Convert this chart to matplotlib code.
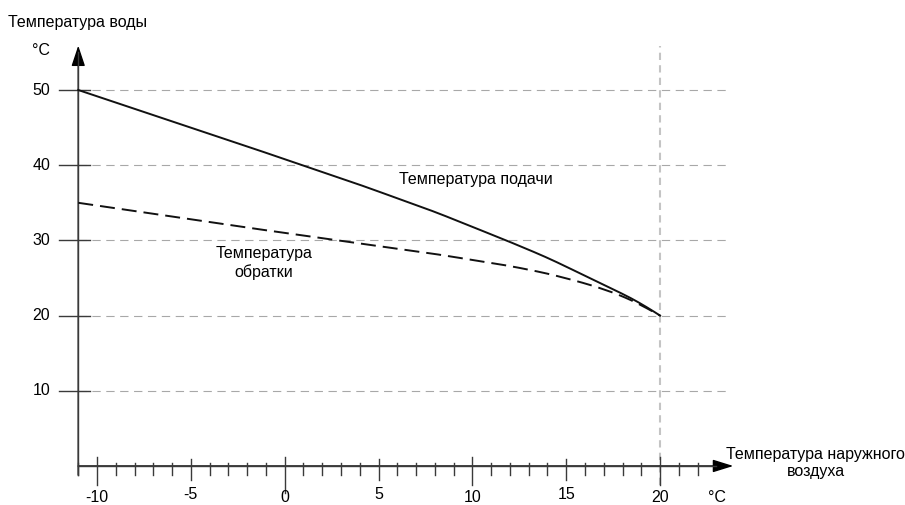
import numpy as np
import matplotlib
matplotlib.use('Agg')
from matplotlib import pyplot as plt

plt.rcParams['font.family'] = ['Liberation Sans', 'DejaVu Sans']
plt.rcParams['font.size'] = 11.5

# outdoor temperature, deg C
outdoor = [-11, -8, -5, -2, 0, 2, 4, 6, 8, 10, 12, 14, 16, 17, 18, 19, 20]
# supply and return water temperature, deg C
supply = [50, 47.5, 45.0, 42.5, 40.8, 39.1, 37.4, 35.6, 33.8, 31.8,
          29.8, 27.7, 25.3, 24.1, 22.9, 21.6, 20]
ret = [35, 33.9, 32.8, 31.7, 31.0, 30.3, 29.6, 28.9, 28.2, 27.4,
       26.6, 25.6, 24.3, 23.5, 22.6, 21.4, 20]

y_ticks = [10, 20, 30, 40, 50]
x_labels = [-10, -5, 0, 5, 10, 15, 20]
x_minor = list(range(-11, 23))

fig = plt.figure(figsize=(9.05, 5.05), dpi=100)
ax = fig.add_axes([0, 0, 1, 1])
ax.set_xlim(-15.17, 33.05)
ax.set_ylim(-5.19, 61.97)
ax.axis('off')

axcol = '#3a3a3a'
gridcol = '#a8a8a8'

# smooth the curves a bit (odd padding keeps the end points)
xs = np.linspace(-11, 20, 300)
n = 15
k = np.ones(n) / n
def smooth(y):
    h = n // 2
    left = 2 * y[0] - y[1:h + 1][::-1]
    right = 2 * y[-1] - y[-h - 1:-1][::-1]
    return np.convolve(np.concatenate([left, y, right]), k, mode='valid')
sup_s = smooth(np.interp(xs, outdoor, supply))
ret_s = smooth(np.interp(xs, outdoor, ret))

# grid
for v in y_ticks:
    ax.plot([-11, 23.5], [v, v], color=gridcol, lw=0.8, ls=(0, (7.5, 5)), zorder=1)
ax.plot([20, 20], [-2.5, 55.9], color='#c4c4c4', lw=1.5, ls=(0, (3.5, 2.5)), zorder=1)

# axes
ax.annotate('', xy=(-11, 55.9), xytext=(-11, -1.2),
            arrowprops=dict(arrowstyle='-|>,head_length=0.9,head_width=0.3',
                            color='black', lw=1.0, shrinkA=0, shrinkB=0,
                            mutation_scale=14), zorder=3)
ax.annotate('', xy=(23.9, 0), xytext=(-11, 0),
            arrowprops=dict(arrowstyle='-|>,head_length=0.9,head_width=0.28',
                            color='black', lw=1.0, shrinkA=0, shrinkB=0,
                            mutation_scale=14), zorder=3)
ax.plot([-11, -11], [-1.2, 55], color=axcol, lw=1.0, zorder=3)
ax.plot([-11, 23], [0, 0], color=axcol, lw=1.0, zorder=3)

for v in y_ticks:
    ax.plot([-12.0, -10.4], [v, v], color=axcol, lw=1.0, zorder=3)
    ax.text(-12.5, v, str(v), ha='right', va='center')

for v in x_minor:
    if v % 10 == 0:
        lo = -3.6 if v == 0 else -2.5
        ax.plot([v, v], [lo, 1.2], color=axcol, lw=1.0, zorder=3)
    elif v % 5 == 0:
        ax.plot([v, v], [-1.9, 0.9], color=axcol, lw=1.0, zorder=3)
    else:
        ax.plot([v, v], [-1.2, 0.4], color=axcol, lw=1.0, zorder=3)
for v in x_labels:
    yl = -4.15 if v % 10 == 0 else -3.75
    ax.text(v, yl, str(v), ha='center', va='center')
ax.text(22.55, -4.15, '°C', ha='left', va='center')

# curves
ax.plot(xs, sup_s, color='#111111', lw=1.4, zorder=4)
ax.plot(xs, ret_s, color='#111111', lw=1.4, ls=(0, (7.7, 3.6)), zorder=4)

# labels
ax.text(-14.75, 59.0, 'Температура воды', ha='left', va='center')
ax.text(-13.46, 55.3, '°C', ha='left', va='center')
ax.text(6.1, 38.1, 'Температура подачи', ha='left', va='center')
ax.text(-1.1, 27.0, 'Температура\nобратки', ha='center', va='center',
        linespacing=1.2)
ax.text(28.3, 0.4, 'Температура наружного\nвоздуха', ha='center', va='center',
        linespacing=1.2)

fig.savefig('out.png', dpi=100)
